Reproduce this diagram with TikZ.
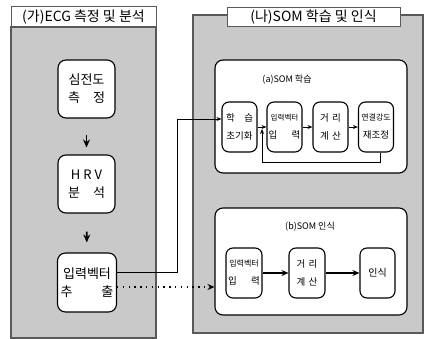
\documentclass[tikz,border=0pt]{standalone}
\usepackage{fontspec}
\setmainfont{Noto Sans CJK KR}
\usetikzlibrary{arrows.meta}
\tikzstyle{panel}=[fill=black!21, draw=black!65, line width=1.2pt]
\tikzstyle{title}=[rectangle, fill=white, draw=black!65, line width=1pt, inner sep=0pt, font=\fontsize{14}{14}\selectfont]
\tikzstyle{stage}=[rectangle, rounded corners=8pt, fill=white, draw=black, line width=1.1pt, minimum width=57pt, minimum height=58pt, inner sep=0pt, align=center, font=\fontsize{13}{18}\selectfont]
\tikzstyle{group}=[rectangle, rounded corners=8pt, fill=white, draw=black, line width=1.1pt, inner sep=0pt]
\tikzstyle{sub}=[rectangle, rounded corners=7pt, fill=white, draw=black, line width=1.1pt, minimum width=35pt, minimum height=50pt, inner sep=0pt, align=center, font=\fontsize{9.5}{18}\selectfont]
\tikzstyle{annot}=[align=center, font=\fontsize{9}{9}\selectfont]
\tikzstyle{down}=[-{Stealth[length=8pt,width=7pt]}, line width=1.7pt]
\tikzstyle{link}=[-{Stealth[length=5pt,width=4pt]}, line width=0.9pt]
\tikzstyle{biglink}=[-{Stealth[length=7pt,width=6pt]}, line width=1.1pt]
\tikzstyle{dotlink}=[-{Stealth[length=7pt,width=6pt]}, line width=1.3pt, dash pattern=on 1.3pt off 4.5pt]

\begin{document}
\begin{tikzpicture}[x=1pt,y=-1pt]
	\useasboundingbox (0,0) rectangle (425,339);

	% (ga) ECG
	\draw[panel] (11,27) rectangle (156,338);
	\node[title, minimum width=145pt, minimum height=20pt](titleL) at (83.5,17){(가)ECG 측정 및 분석};
	\node[stage](ecg) at (86.5,89){심전도\\측\quad 정};
	\node[stage](hrv) at (86.5,184){H R V\\분\quad 석};
	\node[stage, minimum width=59pt, minimum height=59pt](vec) at (87,282.5){입력벡터\\추\hspace{2.2em}출};
	\draw[down, shorten <=16pt, shorten >=7pt] (ecg) -- (hrv);
	\draw[down, shorten <=18pt, shorten >=10pt] (hrv) -- (vec);

	% (na) SOM
	\draw[panel] (193,15) rectangle (423,333);
	\node[title, minimum width=173pt, minimum height=19pt](titleR) at (313.5,17.5){(나)SOM 학습 및 인식};

	\node[group, minimum width=192pt, minimum height=113pt](learn) at (311,116.5){};
	\node[annot](learnT) at (287,80){(a)SOM 학습};
	\node[sub](init) at (239.5,127){학\quad 습\\초기화};
	\node[sub](in1) at (284.5,127){{\fontsize{7.5}{18}\selectfont 입력벡터}\\입\hspace{1.5em}력};
	\node[sub](dist1) at (330.5,127){거\,\,리\\계\,\,산};
	\node[sub](adj) at (376,127){{\fontsize{8}{18}\selectfont 연결강도}\\재조정};
	\draw[link] (init) -- (in1);
	\draw[link] (in1) -- (dist1);
	\draw[link] (dist1) -- (adj);
	\coordinate (loop) at (262,162);
	\draw[link] ([xshift=4pt]adj.south) |- (loop) -- (262,129);

	\node[group, minimum width=192pt, minimum height=107pt](recog) at (311,261.5){};
	\node[annot](recogT) at (310,227){(b)SOM 인식};
	\node[sub, minimum width=36pt](in2) at (244,273){{\fontsize{8}{18}\selectfont 입력벡터}\\입\hspace{1.5em}력};
	\node[sub, minimum width=36pt](dist2) at (307,273){거\,\,리\\계\,\,산};
	\node[sub](rec) at (377.5,273){{\fontsize{10}{18}\selectfont 인식}};
	\draw[biglink] (in2) -- (dist2);
	\draw[biglink] (dist2) -- (rec);

	% inputs
	\coordinate (bend) at (177,119);
	\draw[link] ([yshift=10.5pt]vec.east) -| (bend) -- (bend -| init.west);
	\draw[dotlink] ([yshift=-4.5pt]vec.east) -- ([yshift=-4.5pt]vec.east -| recog.west);
\end{tikzpicture}
\end{document}
